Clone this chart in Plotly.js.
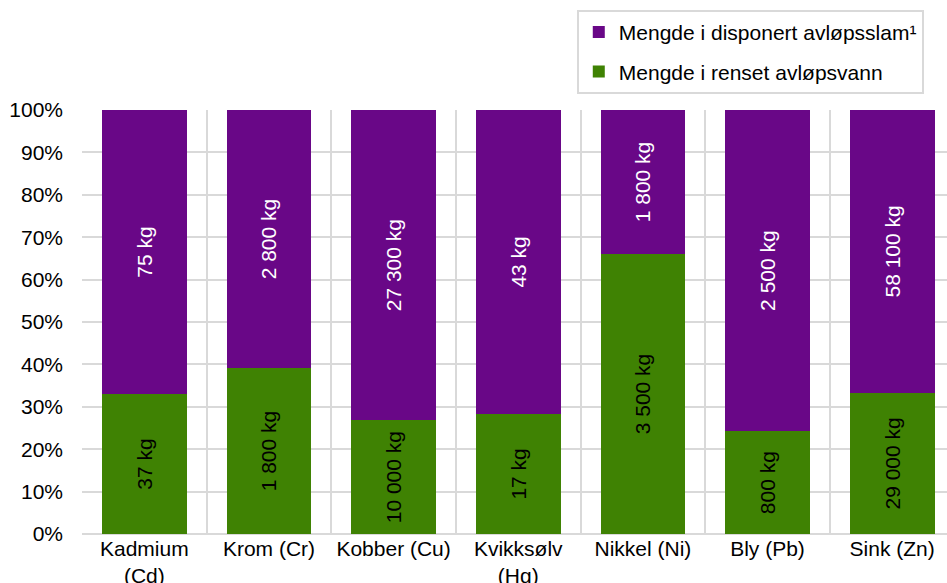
<!DOCTYPE html>
<html>
<head>
<meta charset="utf-8">
<script src="https://cdn.plot.ly/plotly-3.0.1.min.js"></script>
<style>html,body{margin:0;padding:0;background:#fff;}#chart{width:947px;height:583px;}</style>
</head>
<body>
<div id="chart"></div>
<script>
const categories = ["Kadmium<br>(Cd)", "Krom (Cr)", "Kobber (Cu)", "Kvikksølv<br>(Hg)", "Nikkel (Ni)", "Bly (Pb)", "Sink (Zn)"];
const renset = [37, 1800, 10000, 17, 3500, 800, 29000];
const slam = [75, 2800, 27300, 43, 1800, 2500, 58100];
const seriesNames = ["Mengde i renset avløpsvann", "Mengde i disponert avløpsslam¹"];

function fmt(v) {
  return String(v).replace(/\B(?=(\d{3})+(?!\d))/g, " ") + " kg";
}

const FONT = "Liberation Sans, Arial, sans-serif";
const FS = 21;

const traces = [
  {
    type: "bar", name: seriesNames[0], x: categories, y: renset,
    text: renset.map(fmt), textposition: "inside", insidetextanchor: "middle",
    textangle: -90, constraintext: "none",
    textfont: {family: FONT, size: FS, color: "#000000"},
    marker: {color: "#3f8203"}, legendgroup: "g", legendrank: 2, hoverinfo: "none"
  },
  {
    type: "bar", name: seriesNames[1], x: categories, y: slam,
    text: slam.map(fmt), textposition: "inside", insidetextanchor: "middle",
    textangle: -90, constraintext: "none",
    textfont: {family: FONT, size: FS, color: "#ffffff"},
    marker: {color: "#690787"}, legendgroup: "p", legendrank: 1, hoverinfo: "none"
  }
];

const layout = {
  width: 947, height: 583,
  margin: {l: 82, r: 0, t: 110, b: 49, pad: 0},
  paper_bgcolor: "#ffffff", plot_bgcolor: "#ffffff",
  font: {family: FONT, size: FS, color: "#000000"},
  barmode: "stack", barnorm: "percent", bargap: 0.32,
  showlegend: true,
  legend: {
    x: 0.572, y: 1.236, xanchor: "left", yanchor: "top",
    traceorder: "grouped", tracegroupgap: 9, entrywidth: 325,
    bordercolor: "#d9d9d9", borderwidth: 2, bgcolor: "#ffffff",
    font: {family: FONT, size: FS, color: "#000000"}
  },
  xaxis: {
    type: "category", range: [-0.5, 6.44], tickson: "boundaries",
    showgrid: true, gridcolor: "#d9d9d9", gridwidth: 2,
    ticks: "", showline: false, zeroline: false,
    tickfont: {family: FONT, size: FS, color: "#000000"}
  },
  yaxis: {
    range: [0, 100], dtick: 10, ticksuffix: "%",
    showgrid: true, gridcolor: "#d9d9d9", gridwidth: 2,
    zeroline: true, zerolinecolor: "#d9d9d9", zerolinewidth: 2,
    showline: false, ticks: "", ticklabelstandoff: 18,
    tickfont: {family: FONT, size: FS, color: "#000000"}
  }
};

Plotly.newPlot("chart", traces, layout, {displayModeBar: false, staticPlot: true});
</script>
</body>
</html>
